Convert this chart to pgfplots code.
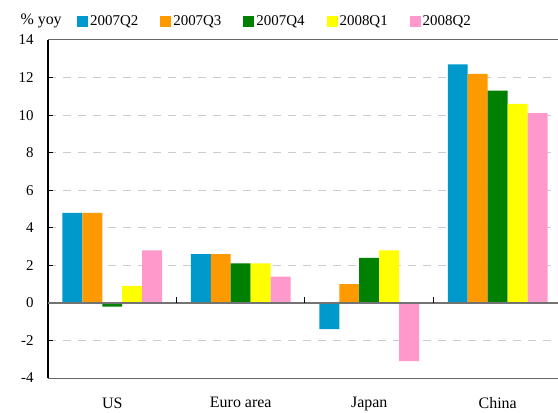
\documentclass[border=0pt]{standalone}
\usepackage{fontspec}
\setmainfont{Liberation Serif}
\usepackage{pgfplots}
\pgfplotsset{compat=1.18}
\definecolor{qBlue}{HTML}{0099CC}
\definecolor{qOrange}{HTML}{FF9900}
\definecolor{qGreen}{HTML}{008000}
\definecolor{qYellow}{HTML}{FFFF00}
\definecolor{qPink}{HTML}{FF99CC}
\definecolor{gridGray}{HTML}{CCCCCC}

\begin{document}
\begin{tikzpicture}
\begin{axis}[
    ybar=0pt,
    bar width=0.1556,
    scale only axis,
    width=510bp, height=338bp,
    xmin=-0.5, xmax=3.469,
    ymin=-4, ymax=14,
    clip=false,
    axis y line*=left,
    axis x line*=bottom,
    y axis line style={black, line width=1.2pt, -},
    x axis line style={black!60, line width=1pt, -},
    ytick={-4,-2,...,14},
    yticklabels={-4,-2,0,2,4,6,8,10,12,14},
    y tick style={black, line width=1pt},
    tick align=inside,
    major tick length=5bp,
    yticklabel style={font=\fontsize{15}{17}\selectfont, xshift=-11bp},
    xtick={0,1,2,3},
    xticklabels={US,Euro area,Japan,China},
    x tick style={draw=none},
    xticklabel style={font=\fontsize{16}{18}\selectfont, yshift=-16bp},
    ymajorgrids,
    grid style={gridGray, line width=1pt, dash pattern=on 8bp off 7bp},
    legend columns=5,
    legend style={draw=none, fill=none, at={(rel axis cs:0,1)}, anchor=south west,
      xshift=26bp, yshift=9bp, font=\fontsize{15}{17}\selectfont,
      /tikz/every even column/.append style={column sep=20bp}},
    legend image code/.code={\fill[#1] (0bp,-5.5bp) rectangle (11bp,5.5bp);},
]
\addplot[fill=qBlue, draw=none] coordinates {(0,4.8) (1,2.6) (2,-1.4) (3,12.7)};
\addplot[fill=qOrange, draw=none] coordinates {(0,4.8) (1,2.6) (2,1.0) (3,12.2)};
\addplot[fill=qGreen, draw=none] coordinates {(0,-0.2) (1,2.1) (2,2.4) (3,11.3)};
\addplot[fill=qYellow, draw=none] coordinates {(0,0.9) (1,2.1) (2,2.8) (3,10.6)};
\addplot[fill=qPink, draw=none] coordinates {(0,2.8) (1,1.4) (2,-3.1) (3,10.1)};
\legend{2007Q2,2007Q3,2007Q4,2008Q1,2008Q2}
% zero line, top line and category separators
\draw[black!55, line width=1.5pt] (axis cs:-0.5,0) -- (axis cs:3.469,0);
\draw[black!60, line width=1pt] (axis cs:-0.5,14) -- (axis cs:3.469,14);
\pgfplotsinvokeforeach{0.5,1.5,2.5}{
  \draw[black, line width=1pt] (axis cs:#1,0) -- (axis cs:#1,0.3);
}
\node[anchor=base west, font=\fontsize{16}{18}\selectfont]
  at (rel axis cs:0,1) [xshift=-31bp, yshift=15bp] {\% yoy};
\end{axis}
\pgfresetboundingbox
\path (current axis.south west) ++(-48bp,-35bp) coordinate (bbA);
\path (current axis.north east) ++(0bp,40bp) coordinate (bbB);
\path (bbA) rectangle (bbB);
\end{tikzpicture}
\end{document}
